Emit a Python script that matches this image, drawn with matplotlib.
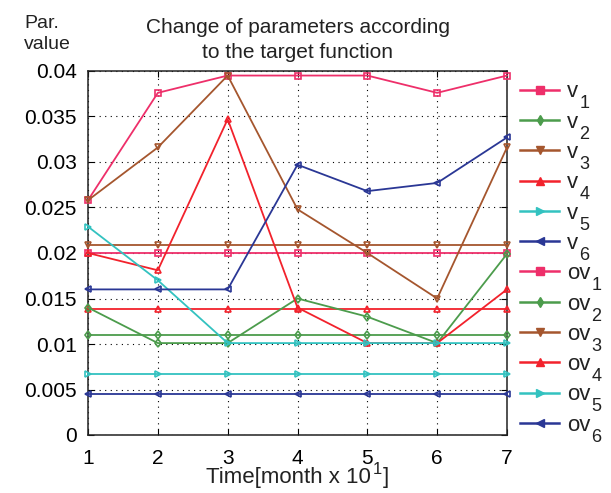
import matplotlib
matplotlib.use("Agg")
import matplotlib.pyplot as plt
from matplotlib.lines import Line2D
from matplotlib.font_manager import FontProperties

plt.rcParams['font.family'] = ['Liberation Sans', 'DejaVu Sans']

time = [1, 2, 3, 4, 5, 6, 7]
v1 = [0.0258, 0.0376, 0.0395, 0.0395, 0.0395, 0.0376, 0.0395]
v2 = [0.0140, 0.0101, 0.0101, 0.0150, 0.0130, 0.0101, 0.0199]
v3 = [0.0258, 0.0316, 0.0395, 0.0248, 0.0200, 0.0150, 0.0316]
v4 = [0.0200, 0.0181, 0.0347, 0.0140, 0.0101, 0.0101, 0.0160]
v5 = [0.0229, 0.0170, 0.0101, 0.0101, 0.0101, 0.0101, 0.0101]
v6 = [0.0160, 0.0160, 0.0160, 0.0297, 0.0268, 0.0277, 0.0327]
ov1 = [0.0200] * 7
ov2 = [0.0110] * 7
ov3 = [0.0209] * 7
ov4 = [0.0139] * 7
ov5 = [0.0067] * 7
ov6 = [0.0045] * 7

label_base = ['v', 'v', 'v', 'v', 'v', 'v', 'ov', 'ov', 'ov', 'ov', 'ov', 'ov']
label_sub = ['1', '2', '3', '4', '5', '6', '1', '2', '3', '4', '5', '6']
yticks = [0, 0.005, 0.01, 0.015, 0.02, 0.025, 0.03, 0.035, 0.04]
ytick_labels = ['0', '0.005', '0.01', '0.015', '0.02', '0.025', '0.03', '0.035', '0.04']

series = [v1, v2, v3, v4, v5, v6, ov1, ov2, ov3, ov4, ov5, ov6]
colors6 = ['#ee2f6a', '#4c9c4c', '#a5562e', '#f2222c', '#33c2c0', '#2a3795']
markers6 = ['s', 'd', 'v', '^', '>', '<']
colors = colors6 * 2
markers = markers6 * 2

W, H = 611, 493
TXT = '#222222'
fig = plt.figure(figsize=(W / 100, H / 100), dpi=100)
ax = fig.add_axes([88 / W, 58 / H, 419 / W, 364 / H])

order = list(range(6, 12)) + list(range(0, 6))
for i in order:
    ax.plot(time, series[i], color=colors[i], marker=markers[i], markersize=4.5,
            markerfacecolor='none', markeredgewidth=1.2, linewidth=1.3,
            clip_on=False, zorder=3)

ax.set_xlim(1, 7)
ax.set_ylim(0, 0.04)
ax.set_xticks(time)
ax.set_yticks(yticks)
ax.set_yticklabels(ytick_labels)
ax.tick_params(direction='in', labelsize=15, length=4, top=True, right=True)
ax.tick_params(axis='x', pad=10)
ax.tick_params(axis='y', pad=8)
ax.grid(True, linestyle=(0, (1, 4)), color='black', linewidth=0.8)
for s in ax.spines.values():
    s.set_linewidth(1.1)
    s.set_color(TXT)

ax.set_title('Change of parameters according\nto the target function', fontsize=15,
             pad=9, color=TXT, linespacing=1.45)
fig.text(24 / W, 1 - 28 / H, 'Par.', fontsize=14, ha='left', va='baseline', color=TXT)
fig.text(24 / W, 1 - 49 / H, 'value', fontsize=14, ha='left', va='baseline', color=TXT)

handles = [Line2D([0], [0], color=colors[i], marker=markers[i], markersize=5.5,
                  linewidth=1.8, markerfacecolor=colors[i]) for i in range(12)]
leg = ax.legend(handles, label_base, loc='upper left',
                bbox_to_anchor=(1 + 13 / 419, 1 - 10.5 / 364),
                frameon=False, fontsize=16, handlelength=1.76, handletextpad=0.36,
                labelspacing=0.418, borderaxespad=0, borderpad=0)
for t in leg.get_texts():
    t.set_color(TXT)

fig.canvas.draw()
renderer = fig.canvas.get_renderer()
fp16 = FontProperties(family=['Liberation Sans'], size=16)
_, _, desc = renderer.get_text_width_height_descent('lp', fp16, ismath=False)
for t, sub in zip(leg.get_texts(), label_sub):
    bb = t.get_window_extent(renderer)
    baseline = bb.y0 + desc
    fig.text((bb.x1 + 1) / W, (baseline - 11) / H, sub, fontsize=13,
             ha='left', va='baseline', color=TXT)

# x-axis label: "Time[month x 10^1]" with a large raised exponent
fpm = FontProperties(family=['Liberation Sans'], size=16)
fps = FontProperties(family=['Liberation Sans'], size=12)
part_a, part_s, part_b = 'Time[month x 10', '1', ']'
wa = renderer.get_text_width_height_descent(part_a, fpm, ismath=False)[0]
ws = renderer.get_text_width_height_descent(part_s, fps, ismath=False)[0]
wb = renderer.get_text_width_height_descent(part_b, fpm, ismath=False)[0]
cx = (88 + 507) / 2
x0 = cx - (wa + ws + 2 + wb) / 2
base_y = (H - 483) / H
fig.text(x0 / W, base_y, part_a, fontproperties=fpm, ha='left', va='baseline', color=TXT)
fig.text((x0 + wa + 1.5) / W, base_y + 9 / H, part_s, fontproperties=fps,
         ha='left', va='baseline', color=TXT)
fig.text((x0 + wa + ws + 2) / W, base_y, part_b, fontproperties=fpm,
         ha='left', va='baseline', color=TXT)

fig.savefig('out.png', dpi=100)
